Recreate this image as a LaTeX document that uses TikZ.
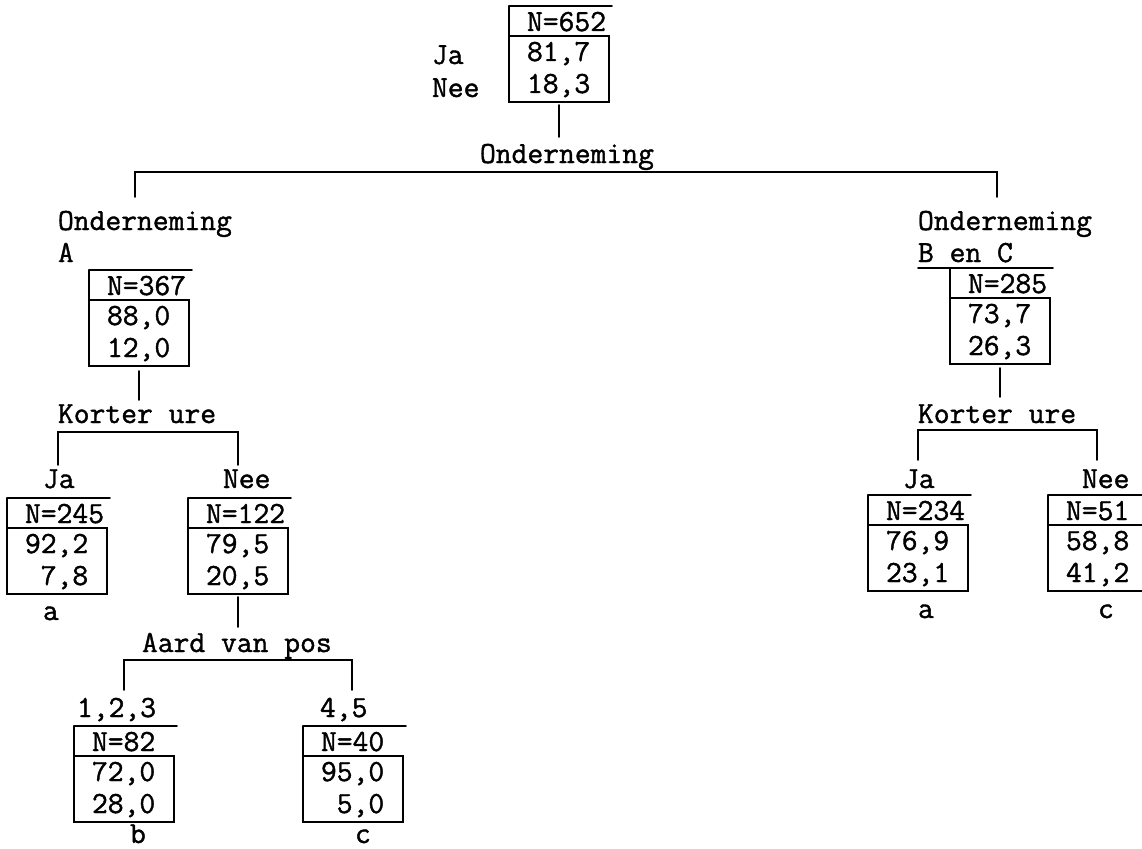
\documentclass[tikz,border=0pt]{standalone}
\usepackage{fontspec}
\newfontfamily\typewriter{Latin Modern Mono}[FakeBold=1.3]
\begin{document}
\begin{tikzpicture}[x=1pt,y=-1pt,
  rule/.style={line width=1.8pt, line cap=round},
  cellbox/.style={rectangle, inner sep=0pt, outer sep=0pt,
    minimum width=100pt, minimum height=96pt},
  txt/.style={inner sep=0pt, outer sep=0pt, anchor=base west,
    font=\typewriter\fontsize{30.7pt}{36pt}\selectfont}]
\useasboundingbox (0,0) rectangle (1142,848);
\clip (0,0) rectangle (1142,848);

% statbox: name, left, top, N-row text, first share, second share
\newcommand\statbox[6]{%
  \node[cellbox, anchor=north west] (#1) at (#2,#3) {};
  \draw[rule] (#1.north west) -- ([xshift=3pt]#1.north east);
  \draw[rule] ([yshift=-30pt]#1.north west) -- ([yshift=-30pt]#1.north east)
     -- (#1.south east) -- (#1.south west) -- (#1.north west);
  \node[txt] (#1-n) at ([xshift=18pt,yshift=-25pt]#1.north west) {#4};
  \node[txt] (#1-p) at ([xshift=18pt,yshift=-55pt]#1.north west) {#5};
  \node[txt] (#1-q) at ([xshift=18pt,yshift=-87pt]#1.north west) {#6};
}

% ---------- root ----------
\statbox{b0}{509}{6}{N=652}{81,7}{18,3}
\node[txt] (ja0) at (432,64) {Ja};
\node[txt] (nee0) at (432,97) {Nee};
\node[txt] (s0) at (480,163) {Onderneming};
\coordinate (s0l) at (135,172);
\coordinate (s0r) at (997,172);
\draw[rule] ([yshift=-3pt]b0.south) -- (b0.south |- 0,137);
\draw[rule] (s0l |- 0,197) -- (s0l) -- (s0r) -- (s0r |- 0,197);

% ---------- Onderneming A ----------
\node[txt] (lA1) at (58,230) {Onderneming};
\node[txt] (lA2) at (58,262) {A};
\statbox{bA}{89}{270}{N=367}{88,0}{12,0}
\node[txt] (sA) at (58,423) {Korter ure};
\coordinate (sAl) at (58,432);
\coordinate (sAr) at (238,432);
\draw[rule] ([yshift=-5pt]bA.south) -- (bA.south |- 0,400);
\draw[rule] (sAl |- 0,465) -- (sAl) -- (sAr) -- (sAr |- 0,465);

\node[txt] (ja1) at (43,488) {Ja};
\statbox{bJa}{7}{498}{N=245}{92,2}{\phantom{9}7,8}
\node[txt] (ga) at (43,620) {a};

\node[txt] (nee1) at (223,488) {Nee};
\statbox{bNee}{188}{498}{N=122}{79,5}{20,5}
\node[txt] (sP) at (142,652) {Aard van pos};
\coordinate (sPl) at (124,660);
\coordinate (sPr) at (352,660);
\draw[rule] ([yshift=-3pt]bNee.south) -- (bNee.south |- 0,627);
\draw[rule] (sPl |- 0,690) -- (sPl) -- (sPr) -- (sPr |- 0,690);

\node[txt] (p123) at (77,717) {1,2,3};
\statbox{b82}{74}{726}{N=82}{72,0}{28,0}
\node[txt] (gb) at (130,843) {b};

\node[txt] (p45) at (320,717) {4,5};
\statbox{b40}{303}{726}{N=40}{95,0}{\phantom{9}5,0}
\node[txt] (gc1) at (355,843) {c};

% ---------- Onderneming B en C ----------
\node[txt] (lB1) at (918,230) {Onderneming};
\node[txt] (lB2) at (918,262) {B en C};
\statbox{bBC}{950}{268}{N=285}{73,7}{26,3}
\draw[rule] (lB2.south west |- bBC.north) -- (bBC.north west);
\node[txt] (sB) at (918,423) {Korter ure};
\coordinate (sBl) at (918,430);
\coordinate (sBr) at (1097,430);
\draw[rule] ([yshift=-4pt]bBC.south) -- (bBC.south |- 0,397);
\draw[rule] (sBl |- 0,460) -- (sBl) -- (sBr) -- (sBr |- 0,460);

\node[txt] (ja2) at (903,488) {Ja};
\statbox{b234}{868}{495}{N=234}{76,9}{23,1}
\node[txt] (ga2) at (918,618) {a};

\node[txt] (nee2) at (1082,488) {Nee};
\statbox{b51}{1048}{495}{N=51}{58,8}{41,2}
\node[txt] (gc2) at (1098,618) {c};
\end{tikzpicture}
\end{document}
